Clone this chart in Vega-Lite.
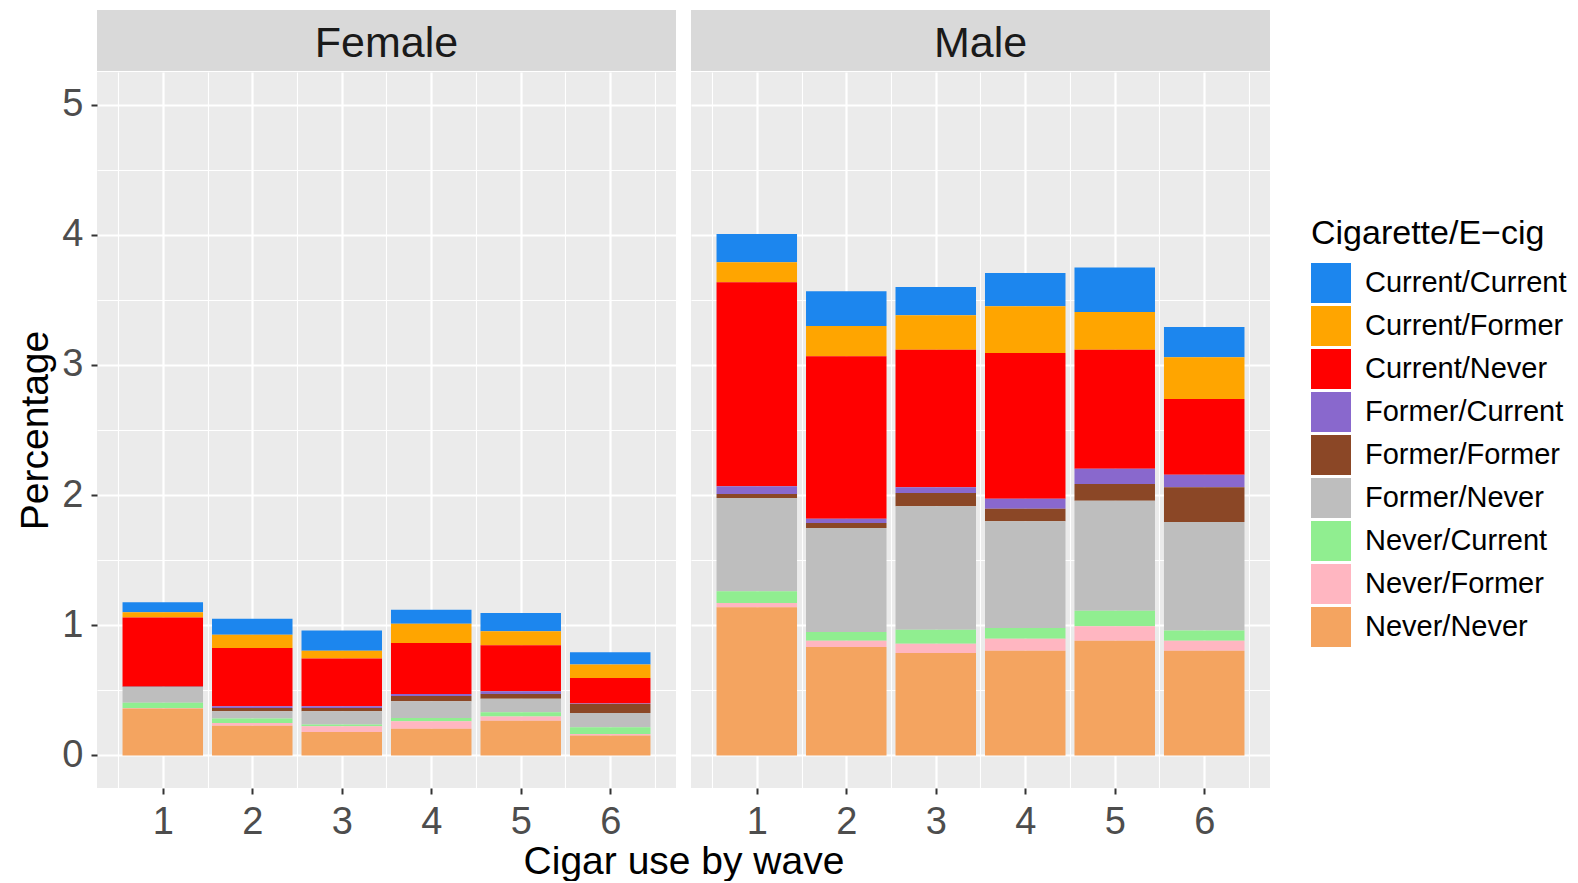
{
"$schema": "https://vega.github.io/schema/vega-lite/v6.json",
"padding": {"left": 16, "top": 10, "right": 0, "bottom": 0},
"background": "white",
"config": {"font": "Liberation Sans", "view": {"stroke": null}},
"datasets": {"bars": [
{"sex":"Female","wave":1,"cat":"Current/Current","pct":0.076},{"sex":"Female","wave":1,"cat":"Current/Former","pct":0.04},{"sex":"Female","wave":1,"cat":"Current/Never","pct":0.53},{"sex":"Female","wave":1,"cat":"Former/Current","pct":0.002},{"sex":"Female","wave":1,"cat":"Former/Former","pct":0.003},{"sex":"Female","wave":1,"cat":"Former/Never","pct":0.12},{"sex":"Female","wave":1,"cat":"Never/Current","pct":0.04},{"sex":"Female","wave":1,"cat":"Never/Former","pct":0.005},{"sex":"Female","wave":1,"cat":"Never/Never","pct":0.36},
{"sex":"Female","wave":2,"cat":"Current/Current","pct":0.123},{"sex":"Female","wave":2,"cat":"Current/Former","pct":0.102},{"sex":"Female","wave":2,"cat":"Current/Never","pct":0.448},{"sex":"Female","wave":2,"cat":"Former/Current","pct":0.013},{"sex":"Female","wave":2,"cat":"Former/Former","pct":0.025},{"sex":"Female","wave":2,"cat":"Former/Never","pct":0.057},{"sex":"Female","wave":2,"cat":"Never/Current","pct":0.033},{"sex":"Female","wave":2,"cat":"Never/Former","pct":0.021},{"sex":"Female","wave":2,"cat":"Never/Never","pct":0.229},
{"sex":"Female","wave":3,"cat":"Current/Current","pct":0.154},{"sex":"Female","wave":3,"cat":"Current/Former","pct":0.061},{"sex":"Female","wave":3,"cat":"Current/Never","pct":0.366},{"sex":"Female","wave":3,"cat":"Former/Current","pct":0.013},{"sex":"Female","wave":3,"cat":"Former/Former","pct":0.025},{"sex":"Female","wave":3,"cat":"Former/Never","pct":0.103},{"sex":"Female","wave":3,"cat":"Never/Current","pct":0.013},{"sex":"Female","wave":3,"cat":"Never/Former","pct":0.044},{"sex":"Female","wave":3,"cat":"Never/Never","pct":0.18},
{"sex":"Female","wave":4,"cat":"Current/Current","pct":0.108},{"sex":"Female","wave":4,"cat":"Current/Former","pct":0.148},{"sex":"Female","wave":4,"cat":"Current/Never","pct":0.392},{"sex":"Female","wave":4,"cat":"Former/Current","pct":0.015},{"sex":"Female","wave":4,"cat":"Former/Former","pct":0.041},{"sex":"Female","wave":4,"cat":"Former/Never","pct":0.128},{"sex":"Female","wave":4,"cat":"Never/Current","pct":0.025},{"sex":"Female","wave":4,"cat":"Never/Former","pct":0.057},{"sex":"Female","wave":4,"cat":"Never/Never","pct":0.206},
{"sex":"Female","wave":5,"cat":"Current/Current","pct":0.14},{"sex":"Female","wave":5,"cat":"Current/Former","pct":0.108},{"sex":"Female","wave":5,"cat":"Current/Never","pct":0.353},{"sex":"Female","wave":5,"cat":"Former/Current","pct":0.021},{"sex":"Female","wave":5,"cat":"Former/Former","pct":0.036},{"sex":"Female","wave":5,"cat":"Former/Never","pct":0.105},{"sex":"Female","wave":5,"cat":"Never/Current","pct":0.031},{"sex":"Female","wave":5,"cat":"Never/Former","pct":0.033},{"sex":"Female","wave":5,"cat":"Never/Never","pct":0.267},
{"sex":"Female","wave":6,"cat":"Current/Current","pct":0.095},{"sex":"Female","wave":6,"cat":"Current/Former","pct":0.103},{"sex":"Female","wave":6,"cat":"Current/Never","pct":0.195},{"sex":"Female","wave":6,"cat":"Former/Current","pct":0.004},{"sex":"Female","wave":6,"cat":"Former/Former","pct":0.07},{"sex":"Female","wave":6,"cat":"Former/Never","pct":0.11},{"sex":"Female","wave":6,"cat":"Never/Current","pct":0.051},{"sex":"Female","wave":6,"cat":"Never/Former","pct":0.012},{"sex":"Female","wave":6,"cat":"Never/Never","pct":0.153},
{"sex":"Male","wave":1,"cat":"Current/Current","pct":0.217},{"sex":"Male","wave":1,"cat":"Current/Former","pct":0.154},{"sex":"Male","wave":1,"cat":"Current/Never","pct":1.567},{"sex":"Male","wave":1,"cat":"Former/Current","pct":0.059},{"sex":"Male","wave":1,"cat":"Former/Former","pct":0.03},{"sex":"Male","wave":1,"cat":"Former/Never","pct":0.717},{"sex":"Male","wave":1,"cat":"Never/Current","pct":0.09},{"sex":"Male","wave":1,"cat":"Never/Former","pct":0.033},{"sex":"Male","wave":1,"cat":"Never/Never","pct":1.138},
{"sex":"Male","wave":2,"cat":"Current/Current","pct":0.266},{"sex":"Male","wave":2,"cat":"Current/Former","pct":0.233},{"sex":"Male","wave":2,"cat":"Current/Never","pct":1.247},{"sex":"Male","wave":2,"cat":"Former/Current","pct":0.033},{"sex":"Male","wave":2,"cat":"Former/Former","pct":0.038},{"sex":"Male","wave":2,"cat":"Former/Never","pct":0.799},{"sex":"Male","wave":2,"cat":"Never/Current","pct":0.067},{"sex":"Male","wave":2,"cat":"Never/Former","pct":0.049},{"sex":"Male","wave":2,"cat":"Never/Never","pct":0.833},
{"sex":"Male","wave":3,"cat":"Current/Current","pct":0.217},{"sex":"Male","wave":3,"cat":"Current/Former","pct":0.264},{"sex":"Male","wave":3,"cat":"Current/Never","pct":1.057},{"sex":"Male","wave":3,"cat":"Former/Current","pct":0.044},{"sex":"Male","wave":3,"cat":"Former/Former","pct":0.102},{"sex":"Male","wave":3,"cat":"Former/Never","pct":0.948},{"sex":"Male","wave":3,"cat":"Never/Current","pct":0.107},{"sex":"Male","wave":3,"cat":"Never/Former","pct":0.072},{"sex":"Male","wave":3,"cat":"Never/Never","pct":0.787},
{"sex":"Male","wave":4,"cat":"Current/Current","pct":0.256},{"sex":"Male","wave":4,"cat":"Current/Former","pct":0.359},{"sex":"Male","wave":4,"cat":"Current/Never","pct":1.119},{"sex":"Male","wave":4,"cat":"Former/Current","pct":0.076},{"sex":"Male","wave":4,"cat":"Former/Former","pct":0.097},{"sex":"Male","wave":4,"cat":"Former/Never","pct":0.82},{"sex":"Male","wave":4,"cat":"Never/Current","pct":0.082},{"sex":"Male","wave":4,"cat":"Never/Former","pct":0.092},{"sex":"Male","wave":4,"cat":"Never/Never","pct":0.805},
{"sex":"Male","wave":5,"cat":"Current/Current","pct":0.343},{"sex":"Male","wave":5,"cat":"Current/Former","pct":0.289},{"sex":"Male","wave":5,"cat":"Current/Never","pct":0.914},{"sex":"Male","wave":5,"cat":"Former/Current","pct":0.118},{"sex":"Male","wave":5,"cat":"Former/Former","pct":0.128},{"sex":"Male","wave":5,"cat":"Former/Never","pct":0.845},{"sex":"Male","wave":5,"cat":"Never/Current","pct":0.12},{"sex":"Male","wave":5,"cat":"Never/Former","pct":0.11},{"sex":"Male","wave":5,"cat":"Never/Never","pct":0.882},
{"sex":"Male","wave":6,"cat":"Current/Current","pct":0.233},{"sex":"Male","wave":6,"cat":"Current/Former","pct":0.32},{"sex":"Male","wave":6,"cat":"Current/Never","pct":0.581},{"sex":"Male","wave":6,"cat":"Former/Current","pct":0.097},{"sex":"Male","wave":6,"cat":"Former/Former","pct":0.267},{"sex":"Male","wave":6,"cat":"Former/Never","pct":0.834},{"sex":"Male","wave":6,"cat":"Never/Current","pct":0.077},{"sex":"Male","wave":6,"cat":"Never/Former","pct":0.077},{"sex":"Male","wave":6,"cat":"Never/Never","pct":0.805}
]},
"columns": 2,
"spacing": {"row": 1, "column": 15},
"bounds": "flush",
"resolve": {"scale": {"color": "shared"}, "legend": {"color": "shared"}},
"concat": [
  {"width": 579, "height": 61, "view": {"fill": "#D9D9D9", "stroke": null},
   "data": {"values": [{"label": "Female"}]},
   "mark": {"type": "text", "fontSize": 43, "color": "#1A1A1A", "baseline": "middle", "align": "center", "dy": 3, "font": "Liberation Sans"},
   "encoding": {"text": {"field": "label", "type": "nominal"}}},
  {"width": 579, "height": 61, "view": {"fill": "#D9D9D9", "stroke": null},
   "data": {"values": [{"label": "Male"}]},
   "mark": {"type": "text", "fontSize": 43, "color": "#1A1A1A", "baseline": "middle", "align": "center", "dy": 3, "font": "Liberation Sans"},
   "encoding": {"text": {"field": "label", "type": "nominal"}}},
  {"width": 579, "height": 716, "view": {"fill": "#EBEBEB", "stroke": null},
   "data": {"name": "bars"},
   "transform": [{"filter": "datum.sex === 'Female'"}],
   "mark": {"type": "bar", "width": 80.5},
   "encoding": {
    "x": {"field": "wave", "type": "quantitative", "scale": {"domain": [0.265, 6.735], "nice": false, "zero": false, "padding": 0},
     "axis": {"values": [0.5,1,1.5,2,2.5,3,3.5,4,4.5,5,5.5,6,6.5], "labelExpr": "datum.value % 1 ? '' : '' + datum.value", "grid": true, "gridColor": "white", "gridWidth": {"condition": {"test": "datum.value % 1 === 0", "value": 2.2}, "value": 1.1}, "tickColor": {"condition": {"test": "datum.value % 1 === 0", "value": "#333333"}, "value": "transparent"}, "tickSize": 6, "tickWidth": 2, "domain": false, "labelFontSize": 38, "labelColor": "#4D4D4D", "labelPadding": 9, "labelOverlap": false, "labelFlush": false,
      "title": "Cigar use by wave", "titleFontSize": 39, "titleFontWeight": "normal", "titleColor": "black", "titleX": 586.5, "titleY": 54, "titleAlign": "center", "titleBaseline": "top", "titleAnchor": null}},
    "y": {"field": "pct", "type": "quantitative", "stack": "zero", "scale": {"domain": [-0.25, 5.25], "nice": false, "zero": false},
     "axis": {"values": [0,0.5,1,1.5,2,2.5,3,3.5,4,4.5,5], "labelExpr": "datum.value % 1 ? '' : '' + datum.value", "grid": true, "gridColor": "white", "gridWidth": {"condition": {"test": "datum.value % 1 === 0", "value": 2.2}, "value": 1.1}, "tickColor": {"condition": {"test": "datum.value % 1 === 0", "value": "#333333"}, "value": "transparent"}, "tickSize": 6, "tickWidth": 2, "domain": false, "labelFontSize": 38, "labelColor": "#4D4D4D", "labelPadding": 8, "labelOverlap": false, "labelFlush": false, "title": "Percentage", "titleFontSize": 39, "titleFontWeight": "normal", "titleColor": "black", "titlePadding": 6}},
    "color": {"field": "cat", "type": "nominal",
     "scale": {"domain": ["Current/Current","Current/Former","Current/Never","Former/Current","Former/Former","Former/Never","Never/Current","Never/Former","Never/Never"], "range": ["#1C86EE","#FFA500","#FF0000","#8968CD","#8B4726","#BEBEBE","#90EE90","#FFB6C1","#F4A460"]},
     "legend": {"title": "Cigarette/E−cig", "orient": "none", "legendX": 1214, "legendY": 207, "titleFontSize": 34, "titleFontWeight": "normal", "titleColor": "black", "titleFont": "Liberation Sans", "titlePadding": 12, "titleLimit": 500, "labelFontSize": 29, "labelColor": "black", "labelFont": "Liberation Sans", "labelOffset": 14, "labelLimit": 400, "symbolType": "square", "symbolSize": 1600, "symbolStrokeWidth": 0, "symbolOpacity": 1, "rowPadding": 3, "padding": 0}},
    "order": {"field": "cat", "type": "ordinal", "sort": "descending"}
   }},
  {"width": 579, "height": 716, "view": {"fill": "#EBEBEB", "stroke": null},
   "data": {"name": "bars"},
   "transform": [{"filter": "datum.sex === 'Male'"}],
   "mark": {"type": "bar", "width": 80.5},
   "encoding": {
    "x": {"field": "wave", "type": "quantitative", "scale": {"domain": [0.265, 6.735], "nice": false, "zero": false, "padding": 0},
     "axis": {"values": [0.5,1,1.5,2,2.5,3,3.5,4,4.5,5,5.5,6,6.5], "labelExpr": "datum.value % 1 ? '' : '' + datum.value", "grid": true, "gridColor": "white", "gridWidth": {"condition": {"test": "datum.value % 1 === 0", "value": 2.2}, "value": 1.1}, "tickColor": {"condition": {"test": "datum.value % 1 === 0", "value": "#333333"}, "value": "transparent"}, "tickSize": 6, "tickWidth": 2, "domain": false, "labelFontSize": 38, "labelColor": "#4D4D4D", "labelPadding": 9, "labelOverlap": false, "labelFlush": false, "title": null}},
    "y": {"field": "pct", "type": "quantitative", "stack": "zero", "scale": {"domain": [-0.25, 5.25], "nice": false, "zero": false},
     "axis": {"values": [0,0.5,1,1.5,2,2.5,3,3.5,4,4.5,5], "labels": false, "ticks": false, "domain": false, "title": null, "grid": true, "gridColor": "white", "gridWidth": {"condition": {"test": "datum.value % 1 === 0", "value": 2.2}, "value": 1.1}}},
    "color": {"field": "cat", "type": "nominal",
     "scale": {"domain": ["Current/Current","Current/Former","Current/Never","Former/Current","Former/Former","Former/Never","Never/Current","Never/Former","Never/Never"], "range": ["#1C86EE","#FFA500","#FF0000","#8968CD","#8B4726","#BEBEBE","#90EE90","#FFB6C1","#F4A460"]}},
    "order": {"field": "cat", "type": "ordinal", "sort": "descending"}
   }}
]
}
